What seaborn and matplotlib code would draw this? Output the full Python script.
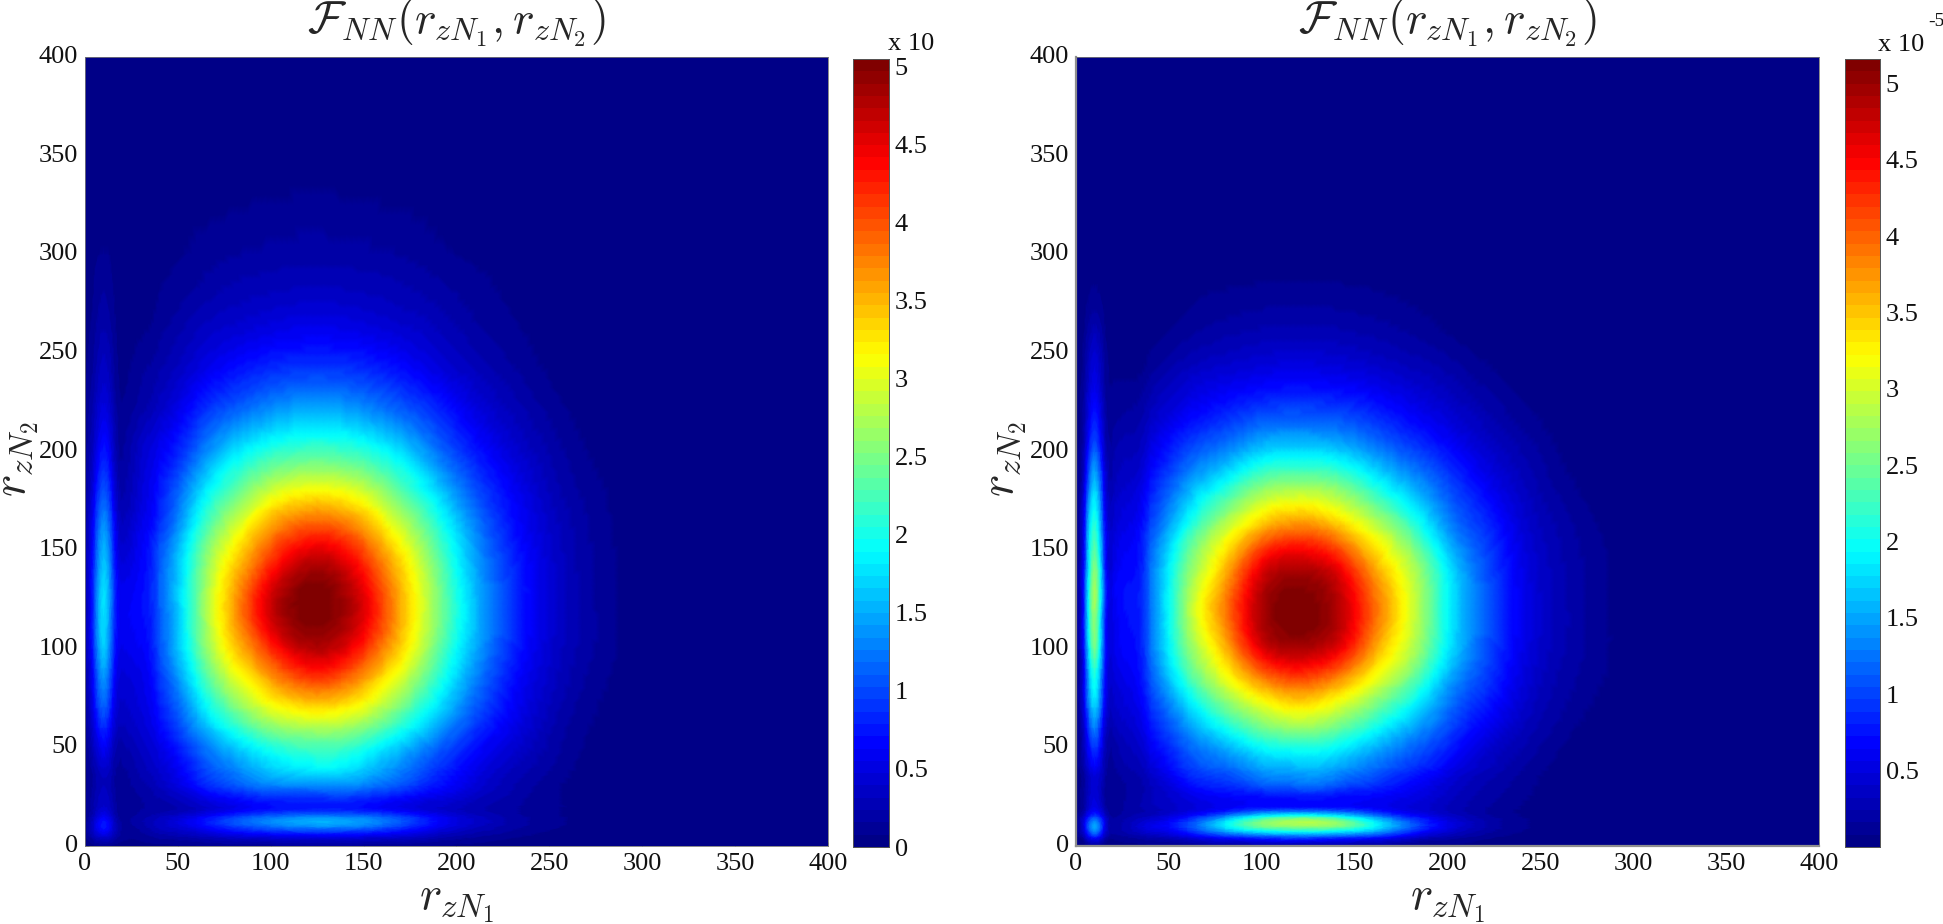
# -*- coding: utf-8 -*-
import numpy as np
import pandas as pd
import seaborn as sns
import matplotlib.pyplot as plt
from matplotlib.colors import LinearSegmentedColormap, Normalize
from matplotlib.tri import Triangulation, UniformTriRefiner

# values, in units of the colorbar
y_nodes = [0, 5, 10, 15, 20, 30, 40, 60, 80, 100, 120, 140, 160, 180, 200, 220, 240, 260, 280, 300, 340, 400]
x_left = [0, 5, 10, 15, 20, 30, 40, 60, 80, 100, 125, 150, 170, 190, 210, 230, 250, 270, 290, 320, 360, 400]
x_right = [0, 5, 10, 15, 20, 30, 40, 60, 80, 100, 120, 140, 160, 180, 200, 220, 240, 260, 280, 300, 340, 400]

z_left = [
    [.02, .06, .1, .07, .04, .05, .06, .08, .1, .12, .15, .12, .1, .08, .05, .03, .01, 0, 0, 0, 0, 0],
    [.08, .3, .45, .3, .12, .12, .2, .3, .45, .55, .6, .55, .45, .3, .18, .1, .05, .02, .01, 0, 0, 0],
    [.1, .45, .75, .45, .15, .2, .35, .6, .95, 1.2, 1.35, 1.25, .95, .6, .35, .2, .1, .05, .02, 0, 0, 0],
    [.08, .35, .6, .35, .12, .2, .3, .55, .9, 1.15, 1.3, 1.2, .95, .6, .35, .2, .1, .05, .02, 0, 0, 0],
    [.07, .25, .4, .25, .1, .15, .2, .35, .55, .7, .75, .7, .55, .4, .27, .18, .1, .05, .02, 0, 0, 0],
    [.06, .2, .32, .2, .12, .2, .33, .7, 1.02, 1.25, 1.3, 1.25, 1.02, .72, .45, .25, .11, .04, .01, 0, 0, 0],
    [.07, .25, .42, .25, .15, .28, .43, .9, 1.33, 1.7, 1.9, 1.7, 1.33, .92, .58, .33, .17, .05, .01, 0, 0, 0],
    [.12, .5, .85, .5, .3, .42, .67, 1.37, 2.05, 2.55, 2.75, 2.55, 2.05, 1.47, .92, .55, .26, .09, .02, 0, 0, 0],
    [.18, .75, 1.3, .75, .42, .52, .87, 1.85, 2.8, 3.45, 3.85, 3.45, 2.8, 2.0, 1.25, .7, .35, .14, .04, 0, 0, 0],
    [.24, .95, 1.65, .95, .55, .63, 1.05, 2.25, 3.35, 4.2, 4.75, 4.2, 3.35, 2.4, 1.5, .85, .42, .19, .06, 0, 0, 0],
    [.25, 1.0, 1.75, 1.05, .6, .7, 1.1, 2.35, 3.6, 4.65, 5.05, 4.55, 3.55, 2.55, 1.6, .9, .45, .2, .06, .01, 0, 0],
    [.24, .95, 1.65, 1.0, .5, .65, 1.1, 2.3, 3.4, 4.3, 4.85, 4.3, 3.4, 2.45, 1.5, .87, .44, .19, .06, 0, 0, 0],
    [.2, .8, 1.4, .85, .35, .57, .93, 2.0, 2.95, 3.7, 4.1, 3.7, 2.95, 2.15, 1.33, .75, .39, .17, .05, 0, 0, 0],
    [.16, .6, 1.05, .62, .22, .45, .77, 1.6, 2.35, 2.9, 3.15, 2.9, 2.35, 1.7, 1.05, .63, .31, .13, .04, 0, 0, 0],
    [.12, .42, .75, .42, .15, .38, .6, 1.15, 1.75, 2.1, 2.25, 2.1, 1.75, 1.22, .77, .45, .23, .08, .02, 0, 0, 0],
    [.1, .3, .52, .3, .1, .22, .38, .8, 1.15, 1.4, 1.55, 1.4, 1.15, .85, .52, .3, .14, .04, .01, 0, 0, 0],
    [.07, .2, .36, .2, .06, .14, .24, .5, .74, .9, .97, .9, .74, .52, .33, .18, .07, .02, 0, 0, 0, 0],
    [.05, .14, .25, .14, .04, .07, .14, .32, .45, .55, .6, .55, .45, .33, .19, .1, .04, .01, 0, 0, 0, 0],
    [.03, .09, .16, .09, .02, .04, .08, .18, .27, .32, .35, .32, .27, .2, .12, .06, .02, 0, 0, 0, 0, 0],
    [.02, .05, .09, .05, .01, .03, .05, .1, .15, .18, .2, .18, .15, .1, .06, .03, .01, 0, 0, 0, 0, 0],
    [0, 0, .01, 0, 0, 0, .01, .02, .03, .04, .05, .04, .03, .02, .01, 0, 0, 0, 0, 0, 0, 0],
    [0, 0, 0, 0, 0, 0, 0, 0, 0, 0, 0, 0, 0, 0, 0, 0, 0, 0, 0, 0, 0, 0],
]

z_right = [
    [.02, .07, .15, .07, .04, .05, .07, .1, .15, .2, .2, .2, .15, .1, .06, .03, .01, 0, 0, 0, 0, 0],
    [.08, .4, .9, .4, .13, .2, .3, .55, .9, 1.15, 1.25, 1.15, .95, .55, .28, .13, .05, .01, 0, 0, 0, 0],
    [.12, .7, 1.5, .7, .2, .35, .55, 1.0, 1.85, 2.5, 2.65, 2.55, 1.95, 1.15, .55, .25, .1, .03, .01, 0, 0, 0],
    [.1, .5, 1.0, .5, .15, .25, .35, .7, 1.3, 1.95, 2.2, 2.0, 1.4, .8, .42, .2, .08, .02, 0, 0, 0, 0],
    [.07, .25, .55, .25, .12, .2, .3, .45, .6, .7, .72, .7, .62, .48, .32, .18, .08, .02, 0, 0, 0, 0],
    [.06, .2, .45, .2, .1, .18, .32, .66, .85, 1.05, 1.15, 1.05, .88, .66, .42, .24, .12, .03, .01, 0, 0, 0],
    [.07, .3, .65, .3, .15, .26, .46, .95, 1.2, 1.53, 1.62, 1.53, 1.25, .95, .64, .35, .18, .05, .01, 0, 0, 0],
    [.1, .55, 1.3, .55, .28, .42, .75, 1.4, 2.0, 2.5, 2.7, 2.5, 2.05, 1.55, 1.05, .62, .33, .14, .04, .01, 0, 0],
    [.12, .85, 1.95, .85, .42, .58, 1.03, 2.05, 2.9, 3.55, 3.85, 3.55, 2.96, 2.3, 1.45, .92, .48, .22, .09, .02, 0, 0],
    [.14, 1.05, 2.5, 1.05, .55, .7, 1.22, 2.55, 3.55, 4.62, 4.9, 4.62, 3.72, 2.9, 1.88, 1.1, .57, .27, .12, .03, 0, 0],
    [.15, 1.15, 2.7, 1.15, .58, .75, 1.25, 2.75, 3.85, 4.9, 5.16, 4.9, 4.0, 3.05, 1.95, 1.15, .6, .29, .12, .03, 0, 0],
    [.14, 1.1, 2.6, 1.1, .55, .7, 1.22, 2.55, 3.55, 4.62, 4.9, 4.62, 3.72, 2.9, 1.88, 1.1, .57, .27, .12, .03, 0, 0],
    [.12, .95, 2.2, .95, .45, .6, 1.05, 2.1, 2.96, 3.67, 3.95, 3.67, 3.05, 2.35, 1.45, .92, .48, .23, .09, .02, 0, 0],
    [.1, .7, 1.75, .72, .32, .45, .8, 1.53, 2.15, 2.7, 2.85, 2.7, 2.2, 1.65, 1.1, .68, .36, .15, .04, .01, 0, 0],
    [.08, .45, 1.15, .47, .22, .3, .54, 1.03, 1.35, 1.72, 1.8, 1.72, 1.4, 1.05, .74, .44, .24, .08, .02, 0, 0, 0],
    [.06, .3, .75, .3, .13, .17, .33, .62, .82, 1.0, 1.05, 1.0, .85, .64, .44, .26, .11, .03, .01, 0, 0, 0],
    [.05, .2, .5, .2, .07, .06, .15, .35, .46, .54, .58, .54, .46, .35, .24, .11, .04, .01, 0, 0, 0, 0],
    [.03, .12, .3, .12, .03, .02, .05, .14, .22, .27, .29, .27, .22, .16, .08, .03, .01, 0, 0, 0, 0, 0],
    [.02, .05, .1, .05, .01, .01, .02, .06, .09, .11, .12, .11, .09, .06, .03, .01, 0, 0, 0, 0, 0, 0],
    [.01, .02, .04, .02, 0, 0, .01, .02, .03, .03, .03, .03, .03, .02, .01, 0, 0, 0, 0, 0, 0, 0],
    [0, 0, 0, 0, 0, 0, 0, 0, 0, 0, 0, 0, 0, 0, 0, 0, 0, 0, 0, 0, 0, 0],
    [0, 0, 0, 0, 0, 0, 0, 0, 0, 0, 0, 0, 0, 0, 0, 0, 0, 0, 0, 0, 0, 0],
]

axis_ticks = [0, 50, 100, 150, 200, 250, 300, 350, 400]
cbar_ticks_left = [0, 0.5, 1, 1.5, 2, 2.5, 3, 3.5, 4, 4.5, 5]
cbar_ticks_right = [0.5, 1, 1.5, 2, 2.5, 3, 3.5, 4, 4.5, 5]

W, H = 1943, 924

sns.set_theme(style='ticks')
plt.rcParams['font.family'] = ['Liberation Serif', 'DejaVu Serif']
plt.rcParams['mathtext.fontset'] = 'cm'

# 64 step jet as matlab has it
jet64 = LinearSegmentedColormap.from_list(
    'jet64',
    [(0, (0, 0, .53)), (1 / 8, (0, 0, 1)), (3 / 8, (0, 1, 1)), (5 / 8, (1, 1, 0)), (7 / 8, (1, 0, 0)), (1, (.5, 0, 0))],
    N=64,
)


def box(x0, y0, x1, y1):
    # pixel box of the reference to figure fractions
    return [x0 / W, 1 - y1 / H, (x1 - x0) / W, (y1 - y0) / H]


def panel(fig, xs, zs, ax_box, cax_box, vmax, cbar_ticks, ylabel_x):
    ax = fig.add_axes(box(*ax_box))
    cax = fig.add_axes(box(*cax_box))
    table = pd.DataFrame(zs, index=y_nodes, columns=xs)
    sns.heatmap(table, ax=ax, cbar_ax=cax, cmap=jet64, vmin=0, vmax=vmax)
    ax.collections[0].set_visible(False)

    # same table drawn smooth: refine on the index grid, then put back on the real axis scale
    I, J = np.meshgrid(np.arange(len(xs)), np.arange(len(y_nodes)))
    tri = Triangulation(I.ravel().astype(float), J.ravel().astype(float))
    fine, fine_z = UniformTriRefiner(tri).refine_field(np.array(zs, dtype=float).ravel(), subdiv=3)
    fine_x = np.interp(fine.x, np.arange(len(xs)), xs)
    fine_y = np.interp(fine.y, np.arange(len(y_nodes)), y_nodes)
    ax.tripcolor(Triangulation(fine_x, fine_y, fine.triangles), fine_z, shading='gouraud', cmap=jet64,
                 norm=Normalize(0, vmax))

    ax.set_xlim(0, 400)
    ax.set_ylim(0, 400)
    ax.set_xticks(axis_ticks, [str(t) for t in axis_ticks], rotation=0)
    ax.set_yticks(axis_ticks, [str(t) for t in axis_ticks], rotation=0)
    ax.tick_params(direction='in', length=3, width=0.5, color='#666666', labelsize=19, pad=5, colors='#111111')
    for s in ax.spines.values():
        s.set_visible(True)
        s.set_linewidth(0.6)
        s.set_color('#777777')
    ax.set_xlabel(r'$r_{zN_1}$', fontsize=34, va='center')
    ax.xaxis.set_label_coords(0.5, -0.073)
    ax.set_ylabel(r'$r_{zN_2}$', fontsize=34, va='center')
    ax.yaxis.set_label_coords(ylabel_x, 0.49)
    ax.set_title(r'$\mathcal{F}_{NN}(r_{zN_1},r_{zN_2})$', fontsize=33, y=1.03, pad=0)

    cax.set_yticks(cbar_ticks, [f'{t:g}' for t in cbar_ticks])
    cax.tick_params(direction='in', length=4, width=0.6, color='#333333', left=True, right=True,
                    labelsize=19, pad=4, colors='#111111')
    for s in cax.spines.values():
        s.set_visible(True)
        s.set_linewidth(0.6)
        s.set_color('#555555')
    return ax


fig = plt.figure(figsize=(W / 100, H / 100), dpi=100)
panel(fig, x_left, z_left, (85, 57, 828, 846), (853, 59, 889, 847), 5.05, cbar_ticks_left, -0.088)
ax_r = panel(fig, x_right, z_right, (1076, 57, 1819, 846), (1845, 59, 1880, 847), 5.16, cbar_ticks_right, -0.092)

# the right panel has a heavier grey edge on two sides
for side in ['left', 'bottom']:
    ax_r.spines[side].set_linewidth(1.6)
    ax_r.spines[side].set_color('#8f8f8f')

fig.text(888 / W, 1 - 44 / H, 'x 10', fontsize=19, va='center', ha='left', color='#111111')
fig.text(1878 / W, 1 - 45 / H, 'x 10', fontsize=19, va='center', ha='left', color='#111111')
fig.text(1928 / W, 1 - 22 / H, '-5', fontsize=14, va='center', ha='left', color='#111111')

fig.savefig('out.png', dpi=100)
